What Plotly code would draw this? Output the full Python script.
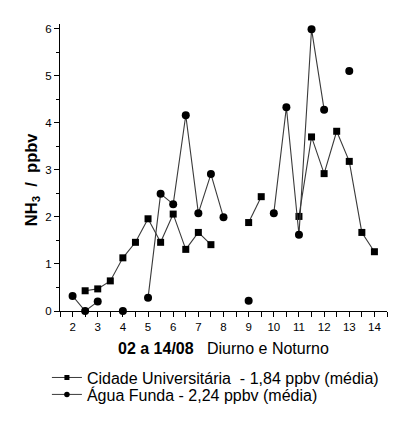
import plotly.graph_objects as go

# Data
x_cidade = [2.5, 3, 3.5, 4, 4.5, 5, 5.5, 6, 6.5, 7, 7.5, None, 9, 9.5, None,
            11, 11.5, 12, 12.5, 13, 13.5, 14]
y_cidade = [0.43, 0.47, 0.64, 1.13, 1.46, 1.96, 1.46, 2.06, 1.31, 1.67, 1.41, None,
            1.88, 2.43, None, 2.01, 3.70, 2.92, 3.82, 3.18, 1.67, 1.26]

x_agua = [2, 2.5, 3, None, 4, None, 5, 5.5, 6, 6.5, 7, 7.5, 8, None, 9, None,
          10, 10.5, 11, 11.5, 12, None, 13]
y_agua = [0.32, 0.0, 0.20, None, 0.0, None, 0.28, 2.49, 2.27, 4.16, 2.08, 2.91, 1.99,
          None, 0.22, None, 2.08, 4.33, 1.62, 5.99, 4.28, None, 5.10]

name_cidade = "Cidade Universitária \u00a0- 1,84 ppbv (média)"
name_agua = "Água Funda - 2,24 ppbv (média)"
x_ticks = list(range(2, 15))
y_ticks = list(range(0, 7))

FONT = "Liberation Sans, Arial, Helvetica, sans-serif"
LINE = "#3a3a3a"

fig = go.Figure()
fig.add_trace(go.Scatter(
    x=x_cidade, y=y_cidade, mode="lines+markers", showlegend=False,
    line=dict(color=LINE, width=1.1),
    marker=dict(symbol="square", size=7, color="black"),
    cliponaxis=False,
))
fig.add_trace(go.Scatter(
    x=x_agua, y=y_agua, mode="lines+markers", showlegend=False,
    line=dict(color=LINE, width=1.1),
    marker=dict(symbol="circle", size=8, color="black"),
    cliponaxis=False,
))
# legend-only entries (smaller symbols, as in the reference legend)
fig.add_trace(go.Scatter(
    x=[None], y=[None], mode="lines+markers", name=name_cidade,
    line=dict(color=LINE, width=1),
    marker=dict(symbol="square", size=5, color="black"), legend="legend",
))
fig.add_trace(go.Scatter(
    x=[None], y=[None], mode="lines+markers", name=name_agua,
    line=dict(color=LINE, width=1),
    marker=dict(symbol="circle", size=5.5, color="black"), legend="legend2",
))

axis_common = dict(
    showline=True, linecolor="black", linewidth=1, ticks="outside",
    tickcolor="black", tickwidth=1, ticklen=5, showgrid=False, zeroline=False,
    tickfont=dict(family=FONT, size=11.5, color="black"),
)
fig.update_xaxes(range=[1.5, 14.5], tickvals=x_ticks,
                 minor=dict(dtick=0.5, ticks="outside", ticklen=5, tickcolor="black"),
                 **axis_common)
fig.update_yaxes(range=[0, 6.1], tickvals=y_ticks,
                 minor=dict(dtick=0.5, ticks="outside", ticklen=3, tickcolor="black"),
                 **axis_common)

fig.update_layout(
    width=401, height=425,
    margin=dict(l=52, r=22, t=16, b=122),
    paper_bgcolor="white", plot_bgcolor="white",
    font=dict(family=FONT, size=16, color="black"),
    legend=dict(x=-0.04, y=-0.232, xanchor="left", yanchor="middle",
                font=dict(family=FONT, size=16, color="black"),
                bgcolor="rgba(0,0,0,0)", tracegroupgap=0),
    legend2=dict(x=-0.04, y=-0.291, xanchor="left", yanchor="middle",
                 font=dict(family=FONT, size=16, color="black"),
                 bgcolor="rgba(0,0,0,0)", tracegroupgap=0),
    annotations=[
        dict(text="<b>NH<sub>3</sub>\u00a0 /\u00a0 ppbv</b>", xref="paper", yref="paper",
             x=-0.0856, y=0.456, xanchor="center", yanchor="middle", textangle=-90,
             showarrow=False, font=dict(family=FONT, size=16.5, color="black")),
        dict(text="<b>02 a 14/08</b>\u00a0\u00a0\u00a0Diurno e Noturno", xref="paper",
             yref="paper", x=0.5, y=-0.129, xanchor="center", yanchor="middle",
             showarrow=False, font=dict(family=FONT, size=16, color="black")),
    ],
)

fig.write_html("out.html")
